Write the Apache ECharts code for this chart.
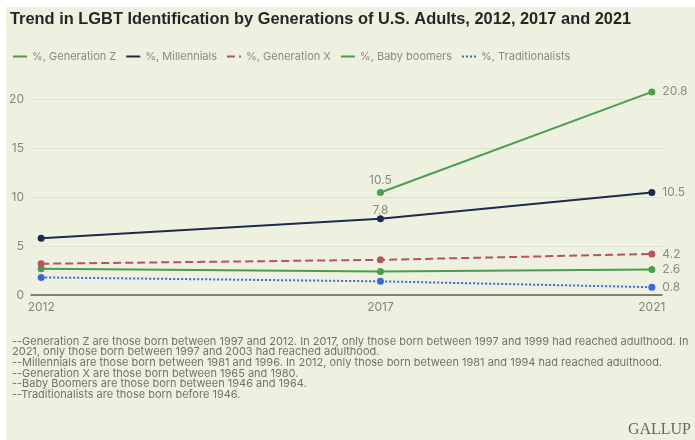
<!DOCTYPE html>
<html>
<head>
<meta charset="utf-8">
<script src="https://cdn.jsdelivr.net/npm/echarts@6/dist/echarts.min.js"></script>
<style>
html,body{margin:0;padding:0;background:#ffffff;}
#chart{width:695px;height:440px;}
</style>
</head>
<body>
<div id="chart"></div>
<script>
const titleText = 'Trend in LGBT Identification by Generations of U.S. Adults, 2012, 2017 and 2021';
const years = [2012, 2017, 2021];
const yTicks = [0, 5, 10, 15, 20];
const seriesNames = ['%, Generation Z', '%, Millennials', '%, Generation X', '%, Baby boomers', '%, Traditionalists'];
const genZ = [null, 10.5, 20.8];
const millennials = [5.8, 7.8, 10.5];
const genX = [3.2, 3.6, 4.2];
const boomers = [2.7, 2.4, 2.6];
const traditionalists = [1.8, 1.4, 0.8];
const footnotes = [
  '--Generation Z are those born between 1997 and 2012. In 2017, only those born between 1997 and 1999 had reached adulthood. In',
  '2021, only those born between 1997 and 2003 had reached adulthood.',
  '--Millennials are those born between 1981 and 1996. In 2012, only those born between 1981 and 1994 had reached adulthood.',
  '--Generation X are those born between 1965 and 1980.',
  '--Baby Boomers are those born between 1946 and 1964.',
  '--Traditionalists are those born before 1946.'
];
const brand = 'GALLUP';

const colors = ['#4d9c4f', '#1c2b4b', '#b4545f', '#44a04a', '#3a67d3'];
const lineTypes = ['solid', 'solid', 'dashed', 'solid', 'dotted'];
const allValues = [genZ, millennials, genX, boomers, traditionalists];
// which indices get labels and where (style)
const labelSpec = [
  {1: {position: 'top', distance: 3}, 2: {position: 'right', distance: 7}},
  {1: {position: 'top', distance: -1}, 2: {position: 'right', distance: 7}},
  {2: {position: 'right', distance: 7}},
  {2: {position: 'right', distance: 7}},
  {2: {position: 'right', distance: 7}}
];

const labelFont = {color: '#8a8a82', fontSize: 12, fontFamily: 'Inter'};

const series = allValues.map((vals, si) => ({
  name: seriesNames[si],
  type: 'line',
  clip: false,
  symbol: 'circle',
  symbolSize: 7,
  lineStyle: {color: colors[si], width: 2, type: lineTypes[si]},
  itemStyle: {color: colors[si]},
  emphasis: {disabled: true},
  z: 10 - si,
  data: years.map((y, i) => {
    if (vals[i] === null) return null;
    const item = {value: [y, vals[i]]};
    const spec = labelSpec[si][i];
    if (spec) {
      item.label = Object.assign({show: true, formatter: String(vals[i])}, labelFont, spec);
    }
    return item;
  }).filter(d => d !== null)
}));

const chart = echarts.init(document.getElementById('chart'), null, {renderer: 'canvas'});
chart.setOption({
  animation: false,
  backgroundColor: '#ffffff',
  textStyle: {fontFamily: 'Inter'},
  graphic: [
    {type: 'rect', left: 6, top: 7, shape: {x: 0, y: 0, width: 689, height: 433}, style: {fill: '#eff1e0'}, z: -10, silent: true},
    {type: 'text', left: 10, top: 11, style: {text: titleText, fontFamily: 'Liberation Sans, Arial', fontWeight: 'bold', fontSize: 16.4, fill: '#262626'}},
    {type: 'text', left: 12, top: 336, style: {text: footnotes.join('\n'), fontFamily: 'Inter', fontSize: 11, lineHeight: 10.6, fill: '#72726b'}},
    {type: 'text', right: 4, top: 422, style: {text: brand, fontFamily: 'Liberation Serif, Times New Roman, serif', fontSize: 16, fill: '#676760'}}
  ],
  legend: {
    left: 7,
    top: 46,
    itemWidth: 14,
    itemHeight: 4,
    itemGap: 9,
    data: seriesNames,
    itemStyle: {opacity: 0},
    textStyle: {color: '#8a8a82', fontSize: 11, fontFamily: 'Inter'},
    selectedMode: false
  },
  grid: {left: 31, right: 33, top: 99.7, bottom: 145, containLabel: false},
  xAxis: {
    type: 'value',
    min: 2011.85,
    max: 2021.15,
    axisLine: {show: true, lineStyle: {color: '#5f5f52', width: 1.5}},
    axisTick: {show: false},
    splitLine: {show: false},
    axisLabel: {customValues: years, color: '#85857d', fontSize: 12, fontFamily: 'Inter', margin: 6, formatter: v => String(v)}
  },
  yAxis: {
    type: 'value',
    min: 0,
    max: 20,
    interval: 5,
    axisLine: {show: false},
    axisTick: {show: false},
    splitLine: {lineStyle: {color: '#dfe1cf', width: 1}},
    axisLabel: {color: '#85857d', fontSize: 12, fontFamily: 'Inter', margin: 7, formatter: v => yTicks.includes(v) ? String(v) : ''}
  },
  series: series
});
</script>
</body>
</html>
